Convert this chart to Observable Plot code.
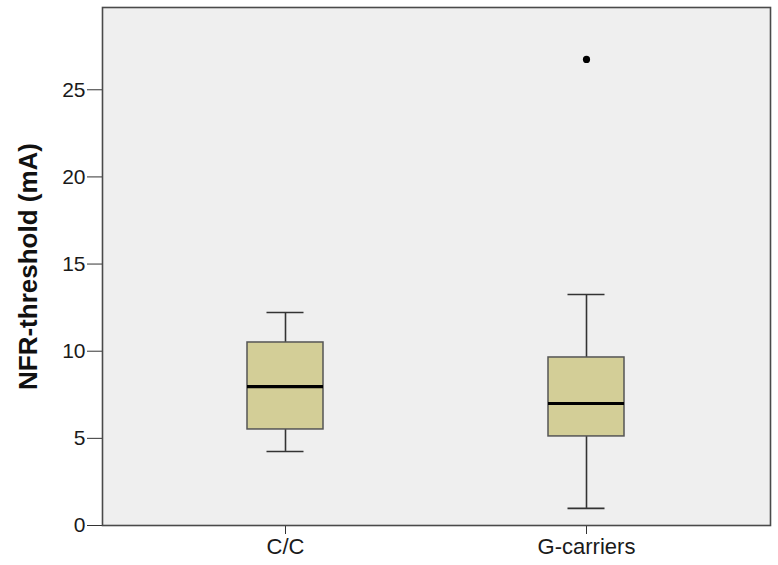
<!DOCTYPE html>
<html>
<head>
<meta charset="utf-8">
<script src="https://cdn.jsdelivr.net/npm/d3@7"></script>
<script src="https://cdn.jsdelivr.net/npm/@observablehq/plot@0.6"></script>
<style>
  html, body { margin: 0; padding: 0; background: #ffffff; }
  svg { display: block; }
</style>
</head>
<body>
<div id="chart"></div>
<script>
const groups = ["C/C", "G-carriers"];
const whiskerLow = [4.25, 0.98];
const q1 = [5.51, 5.11];
const median = [7.97, 7.0];
const q3 = [10.5, 9.64];
const whiskerHigh = [12.22, 13.25];
const outlierGroup = ["G-carriers"];
const outlierValue = [26.74];
const yTicks = [0, 5, 10, 15, 20, 25];
const yLabel = "NFR-threshold (mA)";

const boxes = groups.map((g, i) => ({
  group: g, lo: whiskerLow[i], q1: q1[i], med: median[i], q3: q3[i], hi: whiskerHigh[i]
}));
const outliers = outlierGroup.map((g, i) => ({group: g, value: outlierValue[i]}));

const font = "'Liberation Sans', Arial, sans-serif";

const chart = Plot.plot({
  width: 778,
  height: 565,
  marginLeft: 102,
  marginRight: 8,
  marginTop: 7,
  marginBottom: 40,
  style: {fontFamily: font, background: "#ffffff", color: "#1a1a1a"},
  x: {type: "band", domain: groups, paddingInner: 0.7475, paddingOuter: 0.483, align: 0.5},
  y: {domain: [0, 29.72]},
  marks: [
    Plot.frame({fill: "#efefef", stroke: null}),
    Plot.ruleX(boxes, {x: "group", y1: "lo", y2: "q1", stroke: "#333", strokeWidth: 1.6}),
    Plot.ruleX(boxes, {x: "group", y1: "q3", y2: "hi", stroke: "#333", strokeWidth: 1.6}),
    Plot.tickY(boxes, {x: "group", y: "lo", stroke: "#333", strokeWidth: 1.6, insetLeft: 19.5, insetRight: 19.5}),
    Plot.tickY(boxes, {x: "group", y: "hi", stroke: "#333", strokeWidth: 1.6, insetLeft: 19.5, insetRight: 19.5}),
    Plot.barY(boxes, {x: "group", y1: "q1", y2: "q3", fill: "#d3ce97", stroke: "#555", strokeWidth: 1.5}),
    Plot.tickY(boxes, {x: "group", y: "med", stroke: "#000", strokeWidth: 3.2}),
    Plot.dot(outliers, {x: "group", y: "value", r: 3.6, fill: "#000", stroke: null}),
    Plot.axisY({ticks: yTicks, tickSize: 15, tickPadding: 2, fontSize: 21, label: null, stroke: "#333"}),
    Plot.axisX({tickSize: 9, tickPadding: 4, fontSize: 22, label: null, stroke: "#333"}),
    Plot.text([yLabel], {frameAnchor: "left", dx: -74, rotate: -90, text: d => d, fontSize: 26, fontWeight: "bold", textAnchor: "middle", lineAnchor: "middle", fill: "#111"}),
    Plot.frame({stroke: "#4a4a4a", strokeWidth: 1.6})
  ]
});
document.getElementById("chart").appendChild(chart);
</script>
</body>
</html>
